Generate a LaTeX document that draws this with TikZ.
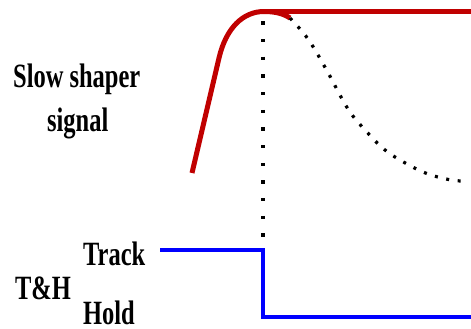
\documentclass[tikz,border=0pt]{standalone}
\usepackage{fontspec}
\setmainfont{Liberation Serif}
\definecolor{sigred}{RGB}{192,0,0}
\definecolor{sigblue}{RGB}{0,0,255}
\begin{document}
\begin{tikzpicture}[x=1pt,y=-1pt,
  lbl/.style={anchor=base west,inner sep=0pt,xscale=0.72,font=\fontsize{34}{34}\selectfont\bfseries},
  redsig/.style={draw=sigred,line width=5pt,line join=round},
  bluesig/.style={draw=sigblue,line width=3.6pt},
  dotline/.style={draw=black,line width=3.2pt,dash pattern=on 3.2pt off 14.47pt},
  decaydot/.style={draw=black,line width=3.2pt,dash pattern=on 3pt off 8.6pt}]
\useasboundingbox (0,0) rectangle (471,329);
% labels
\node[lbl] (slow) at (13,87) {Slow shaper};
\node[lbl] (sig) at (47,131) {signal};
\node[lbl] (track) at (83,265) {Track};
\node[lbl] (th) at (15,299) {T\&H};
\node[lbl] (hold) at (83,324) {Hold};
% coordinates
\coordinate (rs) at (192,173);
\coordinate (rk) at (219,58);
\coordinate (rp) at (264,11.5);
\coordinate (rd) at (290,18);
\coordinate (re) at (471,11.5);
\coordinate (vt) at (263,21.4);
\coordinate (vb) at (263,237);
\coordinate (b0) at (160,250);
\coordinate (b1) at (263,250);
\coordinate (b2) at (263,317);
\coordinate (b3) at (471,317);
% red shaper signal
\draw[redsig] (rs) -- (rk) .. controls (226,28) and (243,11.5) .. (rp)
  .. controls (276,11.5) and (284,14) .. (rd);
\draw[redsig] (rp) -- (re);
% dotted decay
\draw[decaydot] plot[smooth,tension=0.6] coordinates {(290,18) (308,39) (326,69) (348,109) (366,131) (385,150) (407,164) (428,174) (451,180) (464,181)};
% vertical dotted marker
\draw[dotline] (vt) -- (vb);
% blue T&H signal
\draw[bluesig] (b0) -- (b1) -- (b2) -- (b3);
\end{tikzpicture}
\end{document}
